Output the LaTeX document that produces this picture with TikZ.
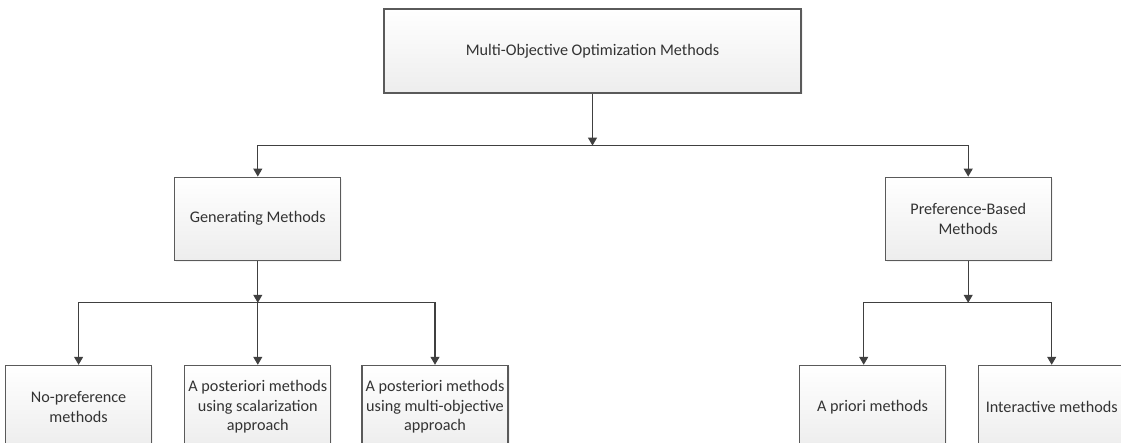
\documentclass[tikz,border=0pt]{standalone}
\usepackage{fontspec}
\setmainfont{Carlito}
\usetikzlibrary{arrows.meta,positioning,shadows}
\definecolor{ink}{HTML}{333333}
\definecolor{edge}{HTML}{5A5A5A}
\definecolor{wire}{HTML}{404040}
\definecolor{shade}{HTML}{EDEDED}
\tikzset{box/.style={draw=edge,line width=1.2pt,top color=white,bottom color=shade,align=center,font=\fontsize{16.2}{19.5}\selectfont,text=ink,minimum height=83pt,minimum width=146pt,inner sep=2pt,drop shadow={opacity=0.1,shadow xshift=1.5pt,shadow yshift=-1.5pt}},flow/.style={-{Triangle[length=8pt,width=9pt]},line width=1.1pt,draw=wire}}

\begin{document}
\begin{tikzpicture}[x=1pt,y=1pt]
\useasboundingbox (0,0) rectangle (1121,-443);
\clip (0,0) rectangle (1121,-443);
\node[box,minimum width=417pt,minimum height=84pt] (moo) at (592.5,-51) {Multi-Objective Optimization Methods};
\node[box,minimum width=166pt,below left=83pt and 42pt of moo] (gen) {Generating Methods};
\node[box,minimum width=166pt,below right=83pt and 83pt of moo] (pref) {Preference-Based\\Methods};
\node[box,below=104pt of gen] (post1) {A posteriori methods\\using scalarization\\approach};
\node[box,left=32pt of post1] (nopref) {No-preference\\methods};
\node[box,right=30pt of post1] (post2) {A posteriori methods\\using multi-objective\\approach};
\node[box,below=104pt of pref,xshift=83.5pt] (inter) {Interactive methods};
\node[box,left=32pt of inter] (apriori) {A priori methods};
\coordinate (j1) at ([yshift=-52pt]moo.south);
\coordinate (j2) at ([yshift=-42pt]gen.south);
\coordinate (j3) at ([yshift=-42pt]pref.south);
\coordinate (k) at ([xshift=-104.5pt]j3);
\draw[flow](moo)--(j1);\draw[flow](j1)-|(gen);\draw[flow](j1)-|(pref);
\draw[flow](gen)--(j2);\draw[flow](j2)-|(nopref);\draw[flow](j2)--(post1);\draw[flow](j2)-|(post2);
\draw[flow](pref)--(j3);\draw[flow](j3)-|(k |- apriori.north);\draw[flow](j3)-|(inter);
\end{tikzpicture}
\end{document}
